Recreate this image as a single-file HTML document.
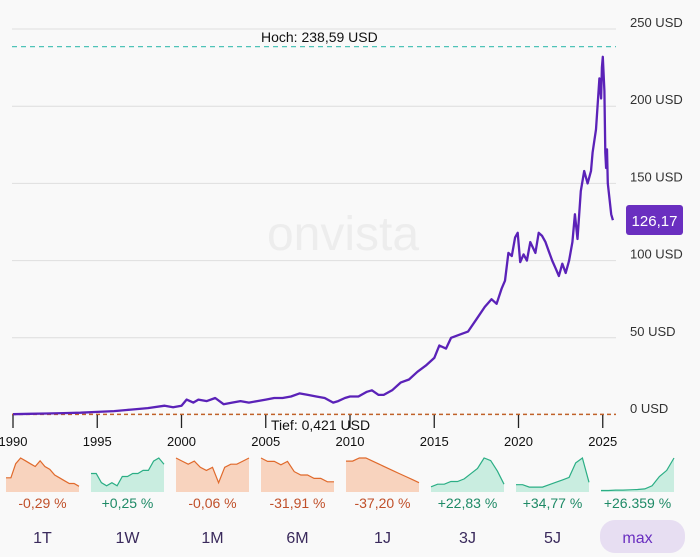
<!DOCTYPE html>
<html><head><meta charset="utf-8"><style>
body{margin:0;width:700px;height:557px;background:#f9f9f9;font-family:"Liberation Sans",sans-serif;overflow:hidden}
svg{position:absolute;left:0;top:0}
</style></head><body>
<svg id="c" width="700" height="557"></svg>
<script>
const years=[1990,1991,1992,1993,1994,1995,1996,1997,1998,1999,1999.5,2000,2000.3,2000.7,2001,2001.5,2002,2002.5,2003,2003.5,2004,2004.5,2005,2005.5,2006,2006.5,2007,2007.5,2008,2008.5,2009,2009.3,2009.7,2010,2010.5,2011,2011.3,2011.7,2012,2012.5,2013,2013.5,2014,2014.5,2015,2015.3,2015.7,2016,2016.5,2017,2017.5,2018,2018.4,2018.7,2019,2019.2,2019.4,2019.6,2019.8,2019.95,2020.1,2020.3,2020.5,2020.7,2021,2021.2,2021.4,2021.6,2021.8,2022,2022.2,2022.4,2022.6,2022.8,2023,2023.2,2023.35,2023.5,2023.7,2023.9,2024.1,2024.3,2024.4,2024.6,2024.8,2024.9,2024.95,2025.0,2025.1,2025.15,2025.2,2025.25,2025.3,2025.4,2025.5,2025.6];
const prices=[0.5,0.8,1,1.2,1.5,2,2.5,3.5,4.5,6,5,6,10,8,10,9,11,7,8,9,8,9,10,11,11,12,14,13,12,11,8,9,11,12,12,15,16,13,13,16,21,23,28,32,37,45,43,50,52,54,62,70,75,72,82,87,105,103,115,118,99,104,100,112,105,118,116,112,106,100,95,90,98,92,100,112,130,114,145,158,150,158,170,185,218,205,225,232,210,170,160,172,150,140,130,126.17];
const xTicks=[1990,1995,2000,2005,2010,2015,2020,2025];
const yTicks=[0,50,100,150,200,250];
const x0=13,pxYear=16.85,y0=415,pxUnit=1.544;
const X=y=>x0+(y-1990)*pxYear, Y=v=>y0-v*pxUnit;
const svg=document.getElementById('c');const NS='http://www.w3.org/2000/svg';
function mk(t,a,p){const e=document.createElementNS(NS,t);for(const k in a)e.setAttribute(k,a[k]);(p||svg).appendChild(e);return e;}
let t=mk('text',{x:343,y:250,'font-size':48,fill:'#ededed','text-anchor':'middle'});t.textContent='onvista';

yTicks.forEach(v=>{if(v>0){let l=mk('line',{x1:12,x2:616,y1:Y(v),y2:Y(v),stroke:'#dedede'});}
 let e=mk('text',{x:630,y:Y(v)-2,'font-size':13,fill:'#333'});e.textContent=v+' USD';});
let hl=mk('line',{x1:12,x2:616,y1:Y(238.59),y2:Y(238.59),stroke:'#4fc3b8','stroke-dasharray':'5,4','stroke-width':1.3});
let ht=mk('text',{x:261,y:42,'font-size':14,fill:'#111'});ht.textContent='Hoch: 238,59 USD';
let ll=mk('line',{x1:12,x2:616,y1:Y(0.421),y2:Y(0.421),stroke:'#c0622a','stroke-dasharray':'4,3','stroke-width':1.5});
xTicks.forEach(v=>{let l=mk('line',{x1:X(v),x2:X(v),y1:415,y2:428,stroke:'#222','stroke-width':1.3});
 let e=mk('text',{x:X(v),y:446,'font-size':13,fill:'#111','text-anchor':'middle'});e.textContent=v;});
let lt=mk('text',{x:271,y:430,'font-size':14,fill:'#111'});lt.textContent='Tief: 0,421 USD';
let d=years.map((y,i)=>(i?'L':'M')+X(y).toFixed(1)+','+Y(prices[i]).toFixed(1)).join('');
let pl=mk('path',{d:d,fill:'none',stroke:'#5b22b8','stroke-width':2.3,'stroke-linejoin':'round'});
let pb=mk('rect',{x:626,y:205,width:57,height:30,rx:3,fill:'#6a2fc0'});
let pt=mk('text',{x:654.5,y:226,'font-size':15,fill:'#fff','text-anchor':'middle'});pt.textContent='126,17';
const sparkVals=[
[5,5,10,12,11,10,9,11,9,8,6,5,4,3,3,2],
[6,6,3,2,3,2,5,5,6,6,7,7,10,11,9],
[11,10,9,10,8,7,8,3,8,9,9,10,11],
[10,9,9,8,9,6,5,5,4,4,3,3],
[10,10,11,11,10,9,8,7,6,5,4,3],
[2,3,3,4,4,5,7,9,13,12,8,3],
[3,3,2,2,2,3,4,5,6,12,14,4],
[0.5,0.5,0.6,0.6,0.7,0.8,1,2,5,7,11]];
const sparkUp=[false,true,false,false,false,true,true,true];
const changes=['-0,29 %','+0,25 %','-0,06 %','-31,91 %','-37,20 %','+22,83 %','+34,77 %','+26.359 %'];
const pos=[false,true,false,false,false,true,true,true];
const periods=['1T','1W','1M','6M','1J','3J','5J','max'];
sparkVals.forEach((vals,i)=>{const sx=6+i*85,w=73,top=455,bot=492;const mx=Math.max(...vals);
 const up=sparkUp[i];const col=up?'#2bae85':'#e06a2c',fill=up?'#c9ede0':'#f8d3be';
 let p=vals.map((v,j)=>[sx+j*w/(vals.length-1),bot-v/mx*(bot-top-3)]);
 let a=mk('path',{d:'M'+sx+','+bot+p.map(q=>'L'+q[0].toFixed(1)+','+q[1].toFixed(1)).join('')+'L'+(sx+w)+','+bot+'Z',fill:fill});
 let l=mk('path',{d:p.map((q,j)=>(j?'L':'M')+q[0].toFixed(1)+','+q[1].toFixed(1)).join(''),fill:'none',stroke:col,'stroke-width':1.2});
 let c=mk('text',{x:sx+w/2,y:508,'font-size':14,fill:pos[i]?'#1e8a66':'#c0502a','text-anchor':'middle'});c.textContent=changes[i];
 if(i==7){let r=mk('rect',{x:600,y:520,width:85,height:33,rx:15,fill:'#e7def2'});}
 let b=mk('text',{x:sx+w/2,y:543,'font-size':16,fill:i==7?'#6a2fc0':'#3a2a5c','text-anchor':'middle'});b.textContent=periods[i];
});
</script>
</body></html>
